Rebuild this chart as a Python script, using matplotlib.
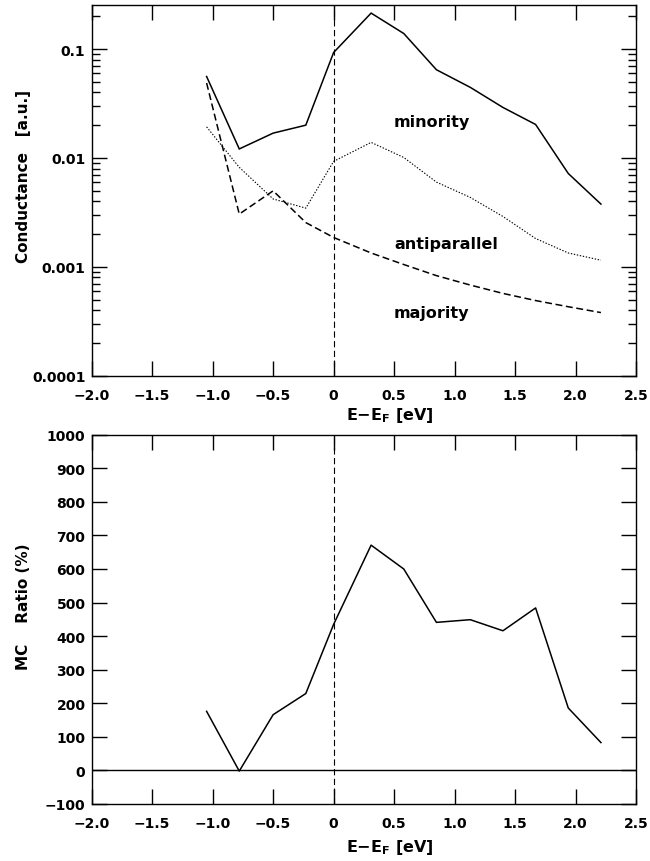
import matplotlib
matplotlib.use("Agg")
import matplotlib.pyplot as plt
from matplotlib.ticker import LogLocator, NullFormatter, FixedLocator

plt.rcParams['font.family'] = ['DejaVu Sans']
plt.rcParams['font.weight'] = 'bold'
plt.rcParams['mathtext.default'] = 'bf'
plt.rcParams['lines.scale_dashes'] = False

# ---- data ----
energy = [-1.05, -0.78, -0.50, -0.23, 0.0, 0.31, 0.58, 0.85, 1.13, 1.40, 1.67, 1.94, 2.21]
minority = [0.056, 0.0121, 0.0169, 0.0200, 0.093, 0.214, 0.139, 0.0646, 0.0445, 0.0291, 0.0203, 0.0072, 0.00377]
antiparallel = [0.0193, 0.0082, 0.0042, 0.00346, 0.0093, 0.0139, 0.0101, 0.0060, 0.00434, 0.0029, 0.00182, 0.00134, 0.00115]
majority = [0.0488, 0.00305, 0.00499, 0.00255, 0.00186, 0.00134, 0.00105, 0.00083, 0.00068, 0.00057, 0.00049, 0.00043, 0.00038]
mc_ratio = [176, -2, 166, 229, 435, 671, 600, 441, 449, 416, 484, 186, 83]

xticks = [-2.0, -1.5, -1.0, -0.5, 0.0, 0.5, 1.0, 1.5, 2.0, 2.5]
xticklabels = ['\u22122.0', '\u22121.5', '\u22121.0', '\u22120.5', '0', '0.5', '1.0', '1.5', '2.0', '2.5']
cond_ticks = [1e-4, 1e-3, 1e-2, 1e-1]
cond_ticklabels = ['0.0001', '0.001', '0.01', '0.1']
mc_ticks = [-100, 0, 100, 200, 300, 400, 500, 600, 700, 800, 900, 1000]
mc_ticklabels = ['\u2212100', '0', '100', '200', '300', '400', '500', '600', '700', '800', '900', '1000']

W, H = 650, 862
fig = plt.figure(figsize=(W / 100, H / 100), dpi=100)

def box(l, t, r, b):
    return [l / W, 1 - b / H, (r - l) / W, (b - t) / H]

ax1 = fig.add_axes(box(91.7, 6, 636, 376.7))
ax2 = fig.add_axes(box(91.7, 435.7, 636, 805))

for ax, ylab in ((ax1, -0.078), (ax2, -0.089)):
    for s in ax.spines.values():
        s.set_linewidth(1.0)
    ax.tick_params(which='major', direction='in', length=10.5, width=1.0,
                   top=True, right=True, labelsize=10, pad=8.5)
    ax.tick_params(axis='y', which='major', pad=4.5)
    ax.tick_params(which='minor', direction='in', length=5.5, width=1.0,
                   top=True, right=True)
    ax.set_xlim(-2.0, 2.5)
    ax.set_xticks(xticks)
    ax.set_xticklabels(xticklabels)
    ax.axvline(0.0, color='black', lw=0.8, linestyle=(0, (4.5, 2.5)))
    ax.set_xlabel('E\u2212E$_{\\mathbf{F}}$ [eV]', fontsize=11.5, fontweight='bold')
    ax.xaxis.set_label_coords(0.548, ylab)

# ---- top panel ----
ax1.set_yscale('log')
ax1.set_ylim(1e-4, 0.254)
ax1.plot(energy, minority, color='black', lw=1.1, solid_joinstyle='miter')
ax1.plot(energy, antiparallel, color='black', lw=0.8, linestyle=(0, (1, 1.2)))
ax1.plot(energy, majority, color='black', lw=1.1, linestyle=(0, (5, 2.6)))
ax1.yaxis.set_major_locator(FixedLocator(cond_ticks))
ax1.set_yticklabels(cond_ticklabels)
ax1.yaxis.set_minor_locator(LogLocator(base=10, subs=[2, 3, 4, 5, 6, 7, 8, 9], numticks=20))
ax1.yaxis.set_minor_formatter(NullFormatter())
ax1.set_ylabel('Conductance   [a.u.]', fontsize=11, fontweight='bold')
ax1.yaxis.set_label_coords(-0.112, 0.54)

ax1.text(0.5, 0.0218, 'minority', fontsize=11.5, fontweight='bold', ha='left', va='center')
ax1.text(0.5, 0.00164, 'antiparallel', fontsize=11.5, fontweight='bold', ha='left', va='center')
ax1.text(0.5, 0.000383, 'majority', fontsize=11.5, fontweight='bold', ha='left', va='center')

# ---- bottom panel ----
ax2.set_ylim(-100, 1000)
ax2.set_yticks(mc_ticks)
ax2.set_yticklabels(mc_ticklabels)
ax2.axhline(0, color='black', lw=1.0)
ax2.plot(energy, mc_ratio, color='black', lw=1.1)
ax2.set_ylabel('MC    Ratio (%)', fontsize=11, fontweight='bold')
ax2.yaxis.set_label_coords(-0.112, 0.536)

fig.savefig('out.png', dpi=100)
